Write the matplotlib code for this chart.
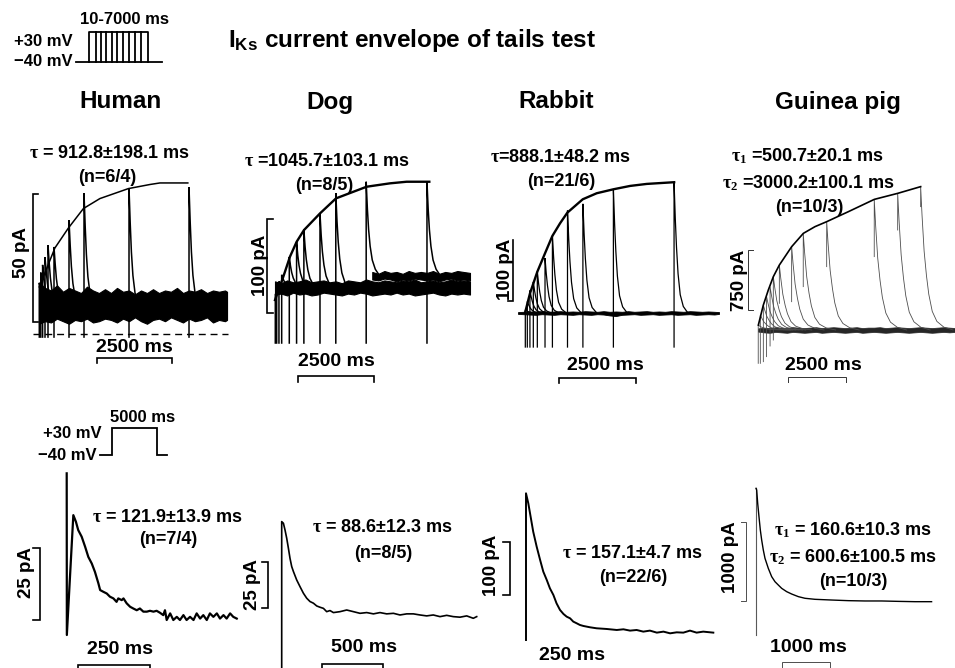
import matplotlib
matplotlib.use('Agg')
import matplotlib.pyplot as plt

plt.rcParams['font.family'] = ['Liberation Sans', 'DejaVu Sans']
plt.rcParams['font.weight'] = 'bold'
plt.rcParams['mathtext.fontset'] = 'custom'
plt.rcParams['mathtext.rm'] = 'Liberation Serif'
plt.rcParams['mathtext.it'] = 'Liberation Serif'
plt.rcParams['mathtext.bf'] = 'Liberation Sans:bold'

# ======================= DATA =======================
species = ['Human', 'Dog', 'Rabbit', 'Guinea pig']
title_text = r'$\mathbf{I_{Ks}}$ current envelope of tails test'
act_tau = [[r'$\tau$ = 912.8±198.1 ms', '(n=6/4)'],
           [r'$\tau$ =1045.7±103.1 ms', '(n=8/5)'],
           [r'$\tau$=888.1±48.2 ms', '(n=21/6)'],
           [r'$\tau_1$ =500.7±20.1 ms', r'$\tau_2$ =3000.2±100.1 ms', '(n=10/3)']]
deact_tau = [[r'$\tau$ = 121.9±13.9 ms', '(n=7/4)'],
             [r'$\tau$ = 88.6±12.3 ms', '(n=8/5)'],
             [r'$\tau$ = 157.1±4.7 ms', '(n=22/6)'],
             [r'$\tau_1$ = 160.6±10.3 ms', r'$\tau_2$ = 600.6±100.5 ms', '(n=10/3)']]
act_scale_pA = [50, 100, 100, 750]
act_scale_ms = [2500, 2500, 2500, 2500]
deact_scale_pA = [25, 25, 100, 1000]
deact_scale_ms = [250, 500, 250, 1000]

# voltage protocols (ms, mV)
prot_hold, prot_test = -40, 30
prot_top_ends = [830, 1380, 2010, 2690, 3350, 4060, 4770, 5450, 6160, 7000]
prot_bottom_dur = 5000

# ---- Human activation (ms, pA) ----
hu_tail_t = [10, 60, 120, 200, 300, 500, 1000, 1500, 3000, 5000]
hu_tail_pk = [20, 24, 27, 30, 34.7, 34.0, 44.5, 55.0, 57.0, 57.3]
hu_base = 11.5
hu_cap_low = -1.2
hu_env_t = [10, 530, 980, 1480, 2030, 2980, 3700, 4030, 4960]
hu_env_i = [18.4, 33.6, 41.4, 49.0, 52.9, 56.8, 58.4, 59.0, 59.0]
hu_decay_dt = [0, 40, 80, 130, 200, 300]
hu_decay_fr = [1, 0.7, 0.45, 0.25, 0.1, 0]
hu_band_t = [0, 200, 400, 600, 800, 1000, 1200, 1400, 1600, 1800, 2000, 2200, 2400,
             2600, 2800, 3000, 3200, 3400, 3600, 3800, 4000, 4200, 4400, 4600, 4800,
             5000, 5200, 5400, 5600, 5800, 6000, 6200, 6267]
hu_band_hi = [20, 18, 17, 19, 16.5, 18, 17, 16, 18.5, 17, 16, 17.5, 16, 18, 16.5, 17,
              15.5, 17, 16, 17.5, 16, 17, 16.5, 18, 16, 17, 16.5, 17.5, 16, 17, 16.5, 17, 16.5]
hu_band_lo = [4, 5, 4.5, 6, 5, 4, 5.5, 5, 6, 4.5, 5, 6, 5.5, 4.5, 6, 5, 6.5, 5, 4,
              5.5, 6, 5, 6.5, 5.5, 4.5, 6, 5, 5.5, 6.5, 4.5, 5.5, 5, 5.5]

# ---- Dog activation ----
dg_tail_t = [10, 55, 130, 220, 470, 710, 950, 1480, 2000, 3000, 5000]
dg_tail_pk = [-8, -3, 6, 13, 32, 48, 61, 78, 100, 112, 112]
dg_tail_base = [0, 0, 0, 0, 0, 0, 0, 0, 0, 14, 14]
dg_cap_low = -59.6
dg_env_t = [0, 274, 493, 713, 954, 1480, 2007, 3015, 3783, 4331, 5077]
dg_env_i = [-13.9, 11.0, 32.3, 48.2, 60.6, 78.3, 94.3, 106.7, 110.3, 112.0, 112.0]
dg_decay_dt = [0, 40, 80, 130, 200, 300, 400]
dg_decay_fr = [1, 0.7, 0.48, 0.3, 0.15, 0.05, 0]
dg_band_t = [0, 200, 400, 600, 800, 1000, 1200, 1400, 1600, 1800, 2000, 2200, 2400,
             2600, 2800, 3000, 3200, 3400, 3600, 3800, 4000, 4200, 4400, 4600, 4800,
             5000, 5200, 5400, 5600, 5800, 6000, 6200, 6415]
dg_band_hi = [6, 4, 7, 5, 6, 8, 5, 6, 7, 5, 6, 4, 7, 6, 5, 8, 6, 5, 7, 6, 5, 7, 6,
              8, 5, 6, 7, 5, 6, 8, 6, 7, 6]
dg_band_lo = [-8, -7, -9, -6, -8, -7, -9, -8, -6, -7, -8, -9, -7, -8, -6, -7, -9, -8,
              -7, -8, -6, -8, -7, -9, -8, -7, -6, -8, -9, -7, -8, -7, -8]
dg_band2_t = [3200, 3400, 3600, 3800, 4000, 4200, 4400, 4600, 4800, 5000, 5200,
              5400, 5600, 5800, 6000, 6200, 6415]
dg_band2_hi = [16, 14, 17, 15, 16, 14, 17, 15, 16, 15, 17, 14, 16, 15, 17, 16, 15]
dg_band2_lo = [8, 7, 9, 8, 6, 8, 7, 9, 8, 7, 8, 6, 8, 9, 7, 8, 7]

# ---- Rabbit activation ----
rb_tail_t = [10, 75, 160, 270, 400, 650, 890, 1380, 1880, 2870, 4840]
rb_tail_pk = [5, 19, 37, 51, 68, 90, 126, 168, 179, 202, 214.5]
rb_cap_low = -55.8
rb_env_t = [0, 162, 401, 650, 888, 1138, 1376, 1875, 2329, 2871, 3413, 3954, 4843]
rb_env_i = [0, 32.2, 67.8, 97.9, 126.3, 147.1, 164.6, 186.5, 196.4, 202.9, 208.4, 211.7, 214.5]
rb_decay_dt = [0, 40, 80, 130, 200, 300, 450]
rb_decay_fr = [1, 0.72, 0.5, 0.3, 0.14, 0.05, 0]
rb_base_t = [-227, -50, 150, 350, 550, 750, 950, 1150, 1350, 1550, 1750, 1950, 2150,
             2350, 2550, 2750, 2950, 3150, 3350, 3550, 3750, 3950, 4150, 4350, 4550,
             4750, 4950, 5150, 5350, 5550, 5750, 5950, 6150, 6300]
rb_base_hi = [1.5, 2, 2.5, 2, 3, 2, 2.5, 3, 2, 2.5, 2, 3, 2.5, 2, 3, 2, 2.5, 2, 3, 2,
              2.5, 3, 2, 2.5, 2, 3, 2.5, 2, 3, 2.5, 2, 2.5, 2, 1.5]
rb_base_lo = [-1.5, -2, -2.5, -3, -2, -2.5, -3, -2, -2.5, -3, -2, -2.5, -3, -2, -2.5,
              -4, -5, -3, -2.5, -2, -3, -2.5, -2, -3, -2.5, -2, -3, -2.5, -2, -3, -2.5,
              -2, -2.5, -1.5]

# ---- Guinea pig activation ----
gp_tail_t = [10, 100, 230, 370, 520, 660, 920, 1450, 1950, 2960, 5010, 6020, 7010]
gp_tail_pk = [62, 188, 312, 417, 542, 667, 812, 1042, 1208, 1354, 1633, 1708, 1792]
gp_spike_low = [-417, -417, -396, -333, -200, -125, 333, 354, 542, 792, 917, 1250, 1542]
gp_env_t = [15, 230, 445, 661, 920, 1452, 1954, 2457, 2960, 3894, 5014, 6020, 7011]
gp_env_i = [62, 312, 500, 667, 812, 1042, 1208, 1292, 1354, 1479, 1633, 1708, 1792]
gp_decay_dt = [0, 60, 150, 250, 350, 500, 700, 1000, 1400]
gp_decay_fr = [1, 0.8, 0.55, 0.38, 0.25, 0.13, 0.06, 0.02, 0]
gp_base_t = [0, 250, 500, 750, 1000, 1250, 1500, 1750, 2000, 2250, 2500, 2750, 3000,
             3250, 3500, 3750, 4000, 4250, 4500, 4750, 5000, 5250, 5500, 5750, 6000,
             6250, 6500, 6750, 7000, 7250, 7500, 7750, 8000, 8250, 8490]
gp_base_hi = [20, 30, 25, 35, 30, 25, 35, 30, 25, 30, 35, 25, 30, 35, 30, 25, 30, 35,
              25, 30, 30, 35, 25, 30, 35, 30, 25, 30, 35, 30, 25, 30, 35, 30, 25]
gp_base_lo = [-20, -30, -35, -25, -30, -35, -25, -30, -35, -30, -25, -35, -30, -25,
              -30, -35, -30, -25, -35, -30, -25, -30, -35, -30, -25, -30, -35, -30, -25,
              -30, -35, -30, -25, -30, -25]

# ---- deactivation traces (ms, pA) ----
hu_d_t = [0, 0.5, 23, 32, 40, 52, 64, 75, 87, 98, 110, 116, 127, 139, 150, 162, 173, 179,
          191, 197, 208, 220, 231, 243, 254, 266, 278, 289, 301, 312, 324, 335, 341, 347,
          359, 370, 382, 393, 405, 416, 428, 440, 451, 463, 474, 486, 497, 509, 521, 532,
          544, 555, 567, 578, 590]
hu_d_i = [50.2, -5.9, 35.7, 33.4, 30.5, 28.2, 24.7, 21.2, 18.9, 16.0, 12.0, 9.7, 9.1, 8.5,
          7.4, 6.8, 5.6, 6.8, 6.2, 6.8, 5.1, 3.9, 3.3, 2.7, 3.3, 2.2, 2.2, 2.5, 2.2, 2.5,
          1.8, 1.0, 2.7, -0.7, 1.6, -0.7, 0.4, -0.7, 1.0, -0.7, 0.4, -0.7, 1.6, -0.2, 1.0,
          -0.7, 1.6, 0.4, 1.6, -0.2, 1.0, -0.2, 1.6, 0.4, -0.2]
dg_d_t = [0, 0, 14, 27, 41, 55, 68, 82, 96, 123, 150, 178, 205, 232, 260, 287, 314, 342,
          369, 396, 424, 478, 533, 588, 642, 697, 752, 806, 861, 916, 970, 1025, 1080,
          1134, 1189, 1243, 1298, 1353, 1407, 1462, 1517, 1571, 1599]
dg_d_i = [-30, 51.8, 50.9, 47.3, 42.8, 37.3, 31.9, 27.4, 24.7, 20.1, 16.5, 12.9, 10.2, 8.4,
          7.5, 6.0, 5.3, 4.7, 2.9, 3.5, 2.4, 2.9, 3.8, 2.9, 2.0, 2.4, 1.7, 2.4, 1.7, 2.0,
          1.1, 1.7, 1.7, 1.1, 0.6, 1.1, 0.2, 0.9, 0.2, -0.1, 0.6, -0.7, 0.2]
rb_d_t = [0, 0, 8, 14, 20, 25, 37, 49, 60, 72, 83, 95, 106, 118, 130, 141, 153, 164, 176,
          187, 199, 222, 245, 280, 315, 338, 361, 384, 407, 430, 454, 477, 500, 523, 546,
          569, 592, 615, 650]
rb_d_i = [-15.1, 261.7, 242.8, 224.0, 205.1, 189.4, 161.1, 135.9, 113.9, 98.2, 82.4, 69.9,
          54.1, 41.6, 34.0, 29.0, 25.8, 19.6, 16.4, 13.3, 11.4, 8.9, 7.0, 5.7, 3.8, 5.1,
          2.6, 3.8, 0.7, 2.6, -1.2, 0.7, -2.5, -0.6, -1.2, 2.6, -1.2, 0.7, -1.2]
gp_d_t = [0, 0, 14, 35, 62, 90, 118, 152, 187, 256, 326, 395, 464, 534, 638, 742, 880,
          1019, 1227, 1573, 1920, 2266, 2613, 2959, 3306, 3652]
gp_d_i = [-418, 1439, 1418, 1249, 1080, 911, 785, 658, 553, 426, 321, 257, 215, 173, 131,
          101, 68, 47, 34, 25, 17, 13, 13, 8, 4, 4]

# ======================= FIGURE =======================
W, H = 955, 668
fig = plt.figure(figsize=(W / 100, H / 100), dpi=100)


def panel(x0_px, y0_px, ms_per_px, unit_per_px):
    """Axes covering the figure, whose data origin sits at pixel (x0_px, y0_px)."""
    ax = fig.add_axes([0, 0, 1, 1])
    ax.set_xlim(-x0_px * ms_per_px, (W - x0_px) * ms_per_px)
    ax.set_ylim((y0_px - H) * unit_per_px, y0_px * unit_per_px)
    ax.set_axis_off()
    ax.patch.set_visible(False)
    return ax


def tails(ax, times, peaks, bases, lows, dts, frs, **kw):
    for t, p, b, lo in zip(times, peaks, bases, lows):
        xs = [t, t] + [t + d for d in dts]
        ys = [lo, p] + [b + (p - b) * f for f in frs]
        ax.plot(xs, ys, solid_joinstyle='miter', **kw)


def vbar(ax, t, i0, length, tick, lw=1.2, color='k', top=True):
    xs = [t + tick, t, t] + ([t + tick] if top else [])
    ys = [i0, i0, i0 + length] + ([i0 + length] if top else [])
    ax.plot(xs, ys, color=color, lw=lw, solid_joinstyle='miter')


def hbar(ax, t0, i, length, tick, lw=1.2, color='k'):
    ax.plot([t0, t0, t0 + length, t0 + length], [i - tick, i, i, i - tick],
            color=color, lw=lw, solid_joinstyle='miter')


# ---------- voltage protocols ----------
pa = panel(89, 44.86, 118.6, 2.333)
pa.plot([-1542, 8658], [prot_hold, prot_hold], color='k', lw=1.3)
pa.plot([0, 0, prot_top_ends[-1], prot_top_ends[-1]],
        [prot_hold, prot_test, prot_test, prot_hold], color='k', lw=1.3)
for e in prot_top_ends[:-1]:
    pa.plot([e, e], [prot_hold, prot_test], color='k', lw=1.3)

pb = panel(111.7, 439.74, 111.1, 2.622)
pb.plot([-1300, 0, 0, prot_bottom_dur, prot_bottom_dur, 6111],
        [prot_hold, prot_hold, prot_test, prot_test, prot_hold, prot_hold],
        color='k', lw=1.3, solid_joinstyle='miter')

# ---------- Human activation ----------
ax = panel(39, 334, 33.33, 0.3906)
ax.fill_between(hu_band_t, hu_band_lo, hu_band_hi, color='k', lw=0.8, edgecolor='k')
tails(ax, hu_tail_t, hu_tail_pk, [hu_base] * len(hu_tail_t), [hu_cap_low] * len(hu_tail_t),
      hu_decay_dt, hu_decay_fr, color='k', lw=1.1)
ax.plot(hu_env_t, hu_env_i, color='k', lw=1.1)
ax.plot([-200, 6300], [0, 0], color='k', lw=1.0, dashes=(5, 3.5))
vbar(ax, -200, 4.7, act_scale_pA[0], 167)
hbar(ax, 1933, -9.4, act_scale_ms[0], 2.0)

# ---------- Dog activation ----------
ax = panel(275, 287, 32.9, 1.064)
ax.fill_between(dg_band_t, dg_band_lo, dg_band_hi, color='k', lw=0.8, edgecolor='k')
ax.fill_between(dg_band2_t, dg_band2_lo, dg_band2_hi, color='k', lw=0.8, edgecolor='k')
tails(ax, dg_tail_t, dg_tail_pk, dg_tail_base, [dg_cap_low] * len(dg_tail_t),
      dg_decay_dt, dg_decay_fr, color='k', lw=1.1)
ax.plot(dg_env_t, dg_env_i, color='k', lw=1.7)
vbar(ax, -263, -27.7, act_scale_pA[1], 197)
hbar(ax, 757, -94.7, act_scale_ms[1], 6.4)

# ---------- Rabbit activation ----------
ax = panel(525, 313, 32.47, 1.64)
ax.fill_between(rb_base_t, rb_base_lo, rb_base_hi, color='k', lw=0.6, edgecolor='k')
tails(ax, rb_tail_t, rb_tail_pk, [0] * len(rb_tail_t), [rb_cap_low] * len(rb_tail_t),
      rb_decay_dt, rb_decay_fr, color='k', lw=0.9)
ax.plot(rb_env_t, rb_env_i, color='k', lw=1.7)
vbar(ax, -390, 19.7, act_scale_pA[2], -162, top=False)
hbar(ax, 1104, -106.6, act_scale_ms[2], 8.2)

# ---------- Guinea pig activation ----------
ax = panel(758, 330, 43.1, 12.5)
ax.fill_between(gp_base_t, gp_base_lo, gp_base_hi, color='0.15', lw=0.5, edgecolor='0.15')
tails(ax, gp_tail_t, gp_tail_pk, [0] * len(gp_tail_t), gp_spike_low,
      gp_decay_dt, gp_decay_fr, color='0.3', lw=0.6)
ax.plot(gp_env_t, gp_env_i, color='k', lw=1.2)
vbar(ax, -431, 250, act_scale_pA[3], 216, lw=0.7, color='0.2')
hbar(ax, 1293, -587.5, act_scale_ms[3], 62.5, lw=0.7, color='0.2')

# ---------- deactivation panels ----------
ax = panel(66.7, 618, 3.47, 0.347)
ax.plot(hu_d_t, hu_d_i, color='k', lw=1.6)
vbar(ax, -92.6, -0.7, deact_scale_pA[0], -24.3)
hbar(ax, 39, -16.3, deact_scale_ms[0], 3.0)

ax = panel(281.7, 617, 8.2, 0.543)
ax.plot(dg_d_t, dg_d_i, color='k', lw=1.2)
vbar(ax, -112, 4.9, deact_scale_pA[1], -49)
hbar(ax, 330, -25.5, deact_scale_ms[1], 4.0)

ax = panel(526, 632, 3.47, 1.887)
ax.plot(rb_d_t, rb_d_i, color='k', lw=1.4)
vbar(ax, -55.5, 69.8, deact_scale_pA[2], -24.3)

ax = panel(756, 602, 20.8, 12.66)
ax.plot(gp_d_t[:2], gp_d_i[:2], color='0.35', lw=0.8)
ax.plot(gp_d_t[1:], gp_d_i[1:], color='k', lw=1.0)
vbar(ax, -208, 12.7, deact_scale_pA[3], -104, lw=0.7, color='0.3')
hbar(ax, 541, -760, deact_scale_ms[3], 60, lw=0.7, color='0.3')

# ---------- text overlay (pixel coordinates) ----------
ov = fig.add_axes([0, 0, 1, 1])
ov.set_xlim(0, W)
ov.set_ylim(H, 0)
ov.set_axis_off()
ov.patch.set_visible(False)


def T(x, y, s, size=13, ha='center', rot=0):
    ov.text(x, y, s, fontsize=size, ha=ha, va='center', rotation=rot, fontweight='bold')


T(124, 20, '10-7000 ms', 12)
T(73, 41, '+30 mV', 12, ha='right')
T(73, 62, '\u221240 mV', 12, ha='right')
T(228, 40, title_text, 17.5, ha='left')

for x, name in zip([120, 330, 556, 838], species):
    T(x, 102, name, 17.5)

# activation annotations
T(110, 153, act_tau[0][0]); T(107, 177, act_tau[0][1])
T(327, 162, act_tau[1][0]); T(324, 185, act_tau[1][1])
T(561, 158, act_tau[2][0]); T(561, 182, act_tau[2][1])
T(807, 156, act_tau[3][0]); T(808, 183, act_tau[3][1]); T(809, 207, act_tau[3][2])

T(22, 253, f'{act_scale_pA[0]} pA', 13.5, rot=90)
T(260, 265, f'{act_scale_pA[1]} pA', 13.5, rot=90)
T(505, 269, f'{act_scale_pA[2]} pA', 13.5, rot=90)
T(739, 280, f'{act_scale_pA[3]} pA', 13.5, rot=90)
T(134, 347, f'{act_scale_ms[0]} ms', 14)
T(336, 362, f'{act_scale_ms[1]} ms', 14)
T(605, 365, f'{act_scale_ms[2]} ms', 14)
T(823, 365, f'{act_scale_ms[3]} ms', 14)

# deactivation annotations
T(143, 417, f'{prot_bottom_dur} ms', 12)
T(102, 433, '+30 mV', 12, ha='right')
T(97, 455, '\u221240 mV', 12, ha='right')

T(168, 517, deact_tau[0][0]); T(168, 540, deact_tau[0][1])
T(383, 528, deact_tau[1][0]); T(383, 553, deact_tau[1][1])
T(633, 553, deact_tau[2][0]); T(633, 577, deact_tau[2][1])
T(853, 530, deact_tau[3][0]); T(853, 557, deact_tau[3][1]); T(853, 582, deact_tau[3][2])

T(26, 573, f'{deact_scale_pA[0]} pA', 13.5, rot=90)
T(252, 585, f'{deact_scale_pA[1]} pA', 13.5, rot=90)
T(491, 565, f'{deact_scale_pA[2]} pA', 13.5, rot=90)
T(730, 557, f'{deact_scale_pA[3]} pA', 13.5, rot=90)
T(120, 650, f'{deact_scale_ms[0]} ms', 14)
T(364, 648, f'{deact_scale_ms[1]} ms', 14)
T(572, 655, f'{deact_scale_ms[2]} ms', 14)
T(808, 648, f'{deact_scale_ms[3]} ms', 14)

fig.savefig('out.png', dpi=100)
